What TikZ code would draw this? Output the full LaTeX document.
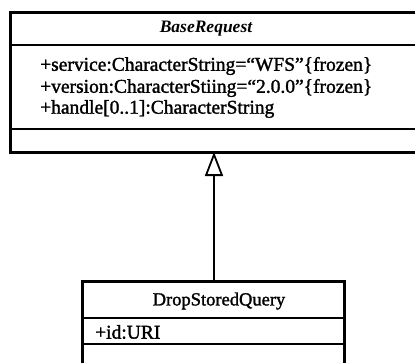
\documentclass[tikz,border=0pt]{standalone}
\usepackage{fontspec}
\setmainfont{Liberation Serif}
\newfontfamily\heavy[FakeBold=1.5]{Liberation Serif}
\usetikzlibrary{arrows.meta,positioning}
\begin{document}
\begin{tikzpicture}[x=1pt,y=-1pt,
  frame/.style={line width=3pt},
  divider/.style={line width=1.4pt},
  boxarea/.style={inner sep=0pt,outer sep=0pt},
  label/.style={inner sep=0pt,font=\heavy\fontsize{19.5}{22}\selectfont},
  attr/.style={label,anchor=west},
  inherit/.style={line width=1.8pt,-{Triangle[open,length=24pt,width=18pt,line width=1.8pt]}}]
\useasboundingbox (0,0) rectangle (415,362);
% class BaseRequest
\node[boxarea,minimum width=412pt,minimum height=140pt] (base) at (216,82) {};
\draw[frame] (10,12) rectangle (422,152);
\draw[divider] (10,45) -- (422,45);
\draw[divider] (10,129) -- (422,129);
\node[label,font=\fontsize{17.5}{20}\selectfont\bfseries\itshape] (bname) at (206,29) {BaseRequest};
\node[attr] (a1) at (40,66) {+service:CharacterString=“WFS”\{frozen\}};
\node[attr] (a2) at (40,88) {+version:CharacterStiing=“2.0.0”\{frozen\}};
\node[attr] (a3) at (40,109) {+handle[0..1]:CharacterString};
% class DropStoredQuery
\node[boxarea,minimum width=262pt,minimum height=89pt] (sub) at (214,325.5) {};
\draw[frame] (82,370) -- (82,281) -- (344,281) -- (344,370);
\draw[divider] (82,318) -- (344,318);
\draw[divider] (82,344) -- (344,344);
\node[label,font=\heavy\fontsize{18.5}{21}\selectfont] (sname) at (219,301) {DropStoredQuery};
\node[attr] (b1) at (95,332) {+id:URI};
% generalization
\draw[inherit] (sub.north) -- (sub.north |- base.south);
\end{tikzpicture}
\end{document}
